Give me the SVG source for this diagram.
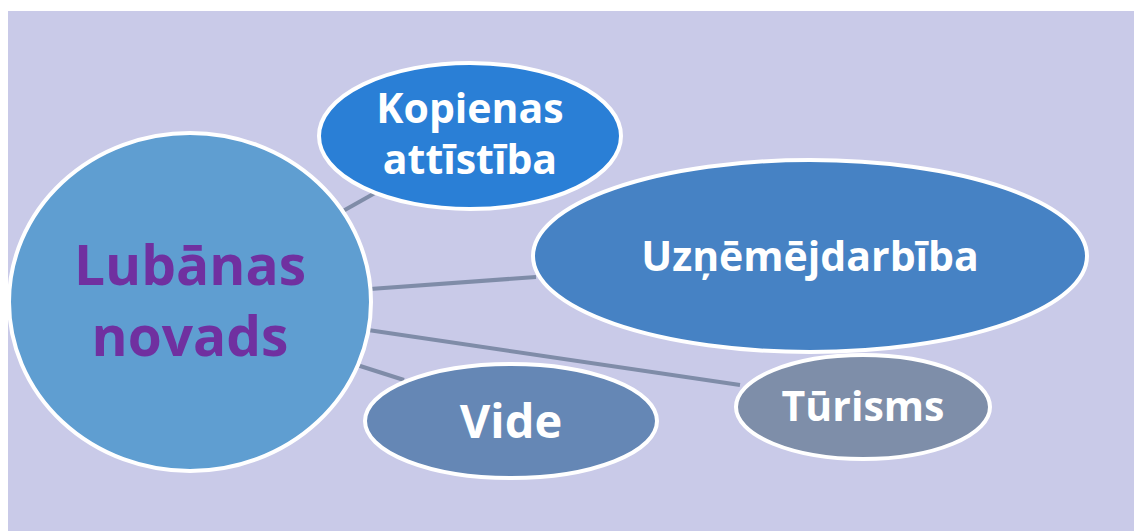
<svg xmlns="http://www.w3.org/2000/svg" width="1134" height="531" viewBox="0 0 1134 531">
<style>
.n{stroke:#ffffff;stroke-width:4}
.t{font-family:"Open Sans","Noto Sans",sans-serif;font-weight:bold;fill:#ffffff;text-anchor:middle}
.p{fill:#7030a0}
.c{stroke:#7f8ca8;stroke-width:4;fill:none}
</style>
<rect x="0" y="0" width="1134" height="531" fill="#ffffff"/>
<rect x="8" y="11" width="1126" height="520" fill="#c9cae8"/>
<g id="connectors">
<line class="c" x1="343" y1="211" x2="375" y2="193"/>
<line class="c" x1="370" y1="289" x2="536" y2="277"/>
<line class="c" x1="368" y1="330" x2="740" y2="385"/>
<line class="c" x1="357" y1="365" x2="404" y2="380"/>
</g>
<g id="kopienas">
<ellipse class="n" cx="470" cy="136" rx="151" ry="73" fill="#2a7fd6"/>
<text class="t" x="470" y="123" font-size="41">Kopienas</text>
<text class="t" x="470" y="174" font-size="41">attīstība</text>
</g>
<g id="uznemejdarbiba">
<ellipse class="n" cx="810" cy="256" rx="277" ry="96" fill="#4682c4"/>
<text class="t" x="810" y="271" font-size="41">Uzņēmējdarbība</text>
</g>
<g id="turisms">
<ellipse class="n" cx="863" cy="407" rx="127" ry="52" fill="#7e8ea9"/>
<text class="t" x="863" y="421" font-size="41">Tūrisms</text>
</g>
<g id="vide">
<ellipse class="n" cx="511" cy="421" rx="146" ry="57" fill="#6587b5"/>
<text class="t" x="511" y="438" font-size="47">Vide</text>
</g>
<g id="lubanas">
<ellipse class="n" cx="190" cy="302" rx="181" ry="169" fill="#5f9ed1"/>
<text class="t p" x="190" y="285" font-size="55">Lubānas</text>
<text class="t p" x="190" y="356" font-size="55">novads</text>
</g>
</svg>
